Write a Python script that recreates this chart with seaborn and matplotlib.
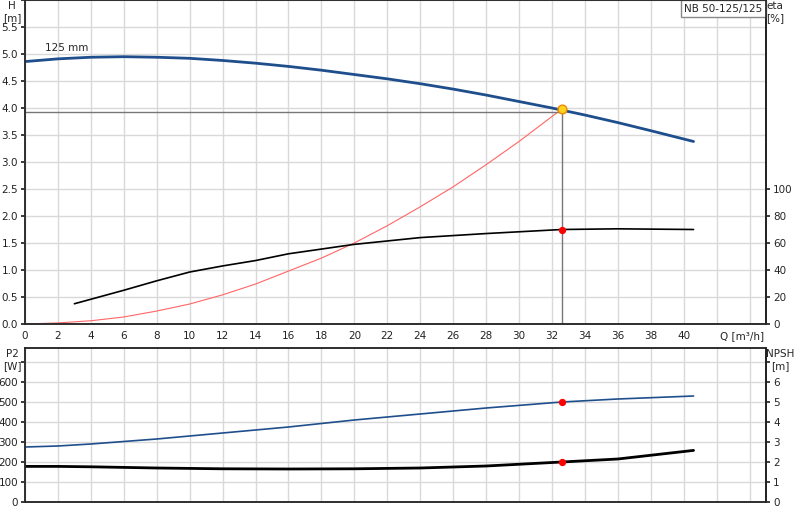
import numpy as np
import matplotlib
matplotlib.use("Agg")
import matplotlib.pyplot as plt
import seaborn as sns

sns.set_theme(style="white")
plt.rcParams["font.family"] = ["DejaVu Sans"]
plt.rcParams["font.size"] = 7.5

# curva H (m) frente a Q (m3/h)
q_h = [0, 2, 4, 6, 8, 10, 12, 14, 16, 18, 20, 22, 24, 26, 28, 30, 32, 34, 36, 38, 40.6]
h = [4.86, 4.91, 4.94, 4.95, 4.94, 4.92, 4.88, 4.83, 4.77, 4.70, 4.62, 4.54, 4.45,
     4.35, 4.24, 4.12, 4.00, 3.87, 3.73, 3.58, 3.38]
# curva de la instalacion
q_sys = [0, 2, 4, 6, 8, 10, 12, 14, 16, 18, 20, 22, 24, 26, 28, 30, 32.6]
h_sys = [0, 0.02, 0.06, 0.13, 0.24, 0.37, 0.54, 0.74, 0.98, 1.22, 1.5, 1.82, 2.17,
         2.54, 2.95, 3.38, 3.98]
# rendimiento eta (%)
q_eta = [3, 6, 8, 10, 12, 14, 16, 20, 24, 28, 32.6, 36, 40.6]
eta = [15, 25, 32, 38.5, 43, 47, 52, 59, 64, 67, 70, 70.5, 70]
# potencia P2 (W) y NPSH (m)
q_low = [0, 2, 4, 8, 12, 16, 20, 24, 28, 32.6, 36, 40.6]
p2 = [275, 280, 290, 315, 345, 375, 410, 440, 470, 500, 515, 530]
npsh = [1.78, 1.78, 1.76, 1.70, 1.66, 1.65, 1.66, 1.70, 1.80, 2.0, 2.15, 2.58]
q_op, h_op, eta_op, p2_op, npsh_op = 32.6, 3.98, 70, 500, 2.0

fig = plt.figure(figsize=(8, 5.2), dpi=100)
ax1 = fig.add_axes([25/800, 1-324/520, 741/800, 324/520])
ax3 = fig.add_axes([25/800, 1-502/520, 741/800, 154/520])

grid = "#d9d9d9"
for ax in (ax1, ax3):
    ax.set_xlim(0, 45)
    ax.set_xticks(np.arange(0, 45, 2))
    ax.grid(True, color=grid, lw=1)
    ax.tick_params(length=3, pad=2, labelsize=7.5, colors="#222222")
    for s in ("left", "bottom", "top"):
        ax.spines[s].set_color("#777777")
    ax.spines["right"].set_color("black")

# panel superior
ax1.set_ylim(0, 6)
ax1.set_yticks(np.arange(0, 6.01, 0.5))
ax1.set_yticklabels([f"{v:.1f}" for v in np.arange(0, 5.51, 0.5)] + [""])
ax1.set_xticklabels([str(v) for v in range(0, 41, 2)] + ["", ""])
sns.lineplot(x=q_h, y=h, ax=ax1, color="#1f4e8c", lw=2)
sns.lineplot(x=q_sys, y=h_sys, ax=ax1, color="#ff6666", lw=0.8)
ax1.plot([0, q_op], [3.93, 3.93], color="#777777", lw=1)
ax1.plot([q_op, q_op], [0, h_op], color="#777777", lw=1)
ax1.scatter([q_op], [h_op], s=40, color="#ffd21f", edgecolor="#f08a00", zorder=5)
ax1.text(1.2, 5.05, "125 mm", fontsize=7.5)

ax2 = ax1.twinx()
ax2.set_ylim(0, 240)
ax2.set_yticks(np.arange(0, 101, 20))
ax2.tick_params(length=3, pad=2, labelsize=7.5)
sns.lineplot(x=q_eta, y=eta, ax=ax2, color="black", lw=1.2)
ax2.scatter([q_op], [eta_op], s=18, color="red", zorder=5)

fig.text(12/800, 1-12/520, "H\n[m]", fontsize=7.5, ha="center", va="center", linespacing=1.3)
fig.text(775/800, 1-12/520, "eta\n[%]", fontsize=7.5, ha="center", va="center", linespacing=1.3)
ax1.text(42.2, -0.13, "Q [m³/h]", fontsize=7.5, va="top")
ax1.text(44.8, 5.93, "NB 50-125/125", ha="right", va="top", fontsize=7.5,
         bbox=dict(facecolor="white", edgecolor="#888888", pad=2.5))

# panel inferior
ax3.set_ylim(0, 770)
ax3.set_yticks(np.arange(0, 701, 100))
ax3.set_yticklabels([str(v) for v in range(0, 601, 100)] + [""])
ax3.set_xticklabels([])
sns.lineplot(x=q_low, y=p2, ax=ax3, color="#1f4e8c", lw=1.2)
ax3.scatter([q_op], [p2_op], s=18, color="red", zorder=5)
ax4 = ax3.twinx()
ax4.set_ylim(0, 7.7)
ax4.set_yticks(np.arange(0, 7.01, 1))
ax4.set_yticklabels([str(v) for v in range(0, 7)] + [""])
ax4.tick_params(length=3, pad=2, labelsize=7.5)
sns.lineplot(x=q_low, y=npsh, ax=ax4, color="black", lw=2)
ax4.scatter([q_op], [npsh_op], s=18, color="red", zorder=5)

fig.text(12/800, 1-360/520, "P2\n[W]", fontsize=7.5, ha="center", va="center", linespacing=1.3)
fig.text(780/800, 1-360/520, "NPSH\n[m]", fontsize=7.5, ha="center", va="center", linespacing=1.3)

fig.savefig("out.png", dpi=100)
